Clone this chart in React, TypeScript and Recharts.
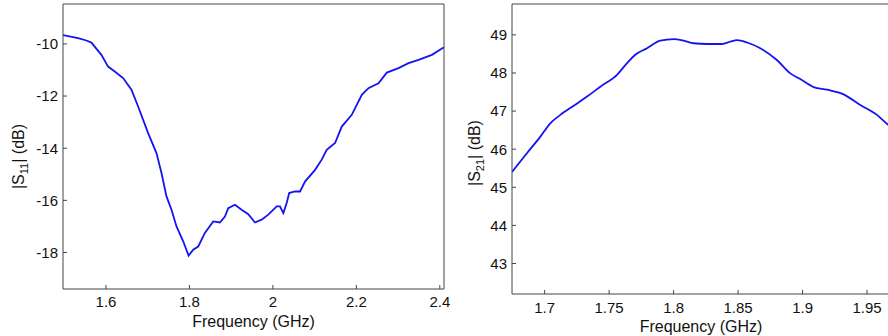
import { LineChart, Line, XAxis, YAxis } from "recharts";

// |S11| measured (left panel)
const s11Freq = [
  1.497, 1.533, 1.553, 1.565, 1.589, 1.605, 1.621, 1.641, 1.661, 1.677, 1.701,
  1.721, 1.733, 1.745, 1.757, 1.769, 1.785, 1.798, 1.809, 1.821, 1.837, 1.857,
  1.873, 1.885, 1.893, 1.909, 1.925, 1.941, 1.957, 1.973, 1.989, 2.009, 2.017,
  2.025, 2.033, 2.039, 2.053, 2.065, 2.077, 2.101, 2.117, 2.129, 2.149, 2.165,
  2.189, 2.213, 2.229, 2.253, 2.273, 2.301, 2.325, 2.349, 2.381, 2.41,
];
const s11Db = [
  -9.66, -9.78, -9.87, -9.95, -10.42, -10.87, -11.06, -11.31, -11.76, -12.4,
  -13.42, -14.19, -14.95, -15.85, -16.36, -17.0, -17.57, -18.12, -17.89, -17.77,
  -17.25, -16.81, -16.85, -16.62, -16.3, -16.17, -16.36, -16.53, -16.85, -16.74,
  -16.55, -16.23, -16.23, -16.49, -16.1, -15.72, -15.66, -15.66, -15.28, -14.83,
  -14.44, -14.06, -13.8, -13.17, -12.72, -11.95, -11.7, -11.51, -11.1, -10.93,
  -10.74, -10.61, -10.42, -10.13,
];
const s11FreqTicks = [1.6, 1.8, 2, 2.2, 2.4];
const s11DbTicks = [-18, -16, -14, -12, -10];

// |S21| measured (right panel)
const s21Freq = [
  1.6747, 1.6864, 1.6967, 1.7044, 1.7122, 1.7225, 1.7329, 1.7432, 1.7561,
  1.7639, 1.7703, 1.7794, 1.7897, 1.8, 1.8078, 1.8155, 1.8259, 1.8375, 1.844,
  1.8491, 1.8569, 1.8672, 1.8801, 1.8905, 1.8982, 1.9085, 1.9189, 1.9318,
  1.9447, 1.9577, 1.9664, 1.968,
];
const s21Db = [
  45.4, 45.9, 46.33, 46.68, 46.9, 47.14, 47.38, 47.64, 47.95, 48.26, 48.48,
  48.65, 48.85, 48.89, 48.85, 48.78, 48.76, 48.76, 48.82, 48.86, 48.8, 48.65,
  48.34, 47.99, 47.84, 47.63, 47.56, 47.44, 47.16, 46.9, 46.64, 46.6,
];
const s21FreqTicks = [1.7, 1.75, 1.8, 1.85, 1.9, 1.95];
const s21DbTicks = [43, 44, 45, 46, 47, 48, 49];

const FONT = '"Liberation Sans", Arial, sans-serif';
const AXIS = "#444";
const tickStyle = { fontSize: 15, fill: "#111", fontFamily: FONT };

const XTitle = ({ viewBox }: any) => (
  <text
    x={viewBox.x + viewBox.width / 2}
    y={viewBox.y + 38}
    textAnchor="middle"
    fontSize={16}
    fill="#111"
    fontFamily={FONT}
  >
    Frequency (GHz)
  </text>
);

const YTitle = ({ viewBox, sub, bx, dy }: any) => {
  const cx = viewBox.x + bx;
  const cy = viewBox.y + viewBox.height / 2 + dy;
  return (
    <text
      x={cx}
      y={cy}
      transform={`rotate(-90, ${cx}, ${cy})`}
      textAnchor="middle"
      fontSize={16}
      fill="#111"
      fontFamily={FONT}
    >
      |S
      <tspan dy={4} fontSize={11}>
        {sub}
      </tspan>
      <tspan dy={-4}>| (dB)</tspan>
    </text>
  );
};

type PanelProps = {
  freq: number[];
  db: number[];
  xDomain: [number, number];
  yDomain: [number, number];
  xTicks: number[];
  yTicks: number[];
  width: number;
  left: number;
  yWidth: number;
  xHeight: number;
  rightMargin: number;
  sub: string;
  titleX: number;
  titleDy: number;
  xTickMargin: number;
  smooth?: boolean;
};

function Panel(p: PanelProps) {
  const data = p.freq.map((f, i) => ({ f, v: p.db[i] }));
  return (
    <div style={{ position: "absolute", left: p.left, top: 0 }}>
      <LineChart
        width={p.width}
        height={336}
        data={data}
        margin={{ top: 3, right: p.rightMargin, bottom: 0, left: 0 }}
      >
        <XAxis
          dataKey="f"
          type="number"
          domain={p.xDomain}
          ticks={p.xTicks}
          interval={0}
          allowDataOverflow
          height={p.xHeight}
          tickSize={-4}
          tickMargin={p.xTickMargin}
          tick={tickStyle}
          stroke={AXIS}
          axisLine={{ stroke: AXIS }}
          tickLine={{ stroke: AXIS }}
          label={<XTitle />}
        />
        <XAxis
          xAxisId="top"
          orientation="top"
          dataKey="f"
          type="number"
          domain={p.xDomain}
          ticks={p.xTicks}
          interval={0}
          allowDataOverflow
          height={1}
          tickSize={-4}
          tick={false}
          axisLine={{ stroke: AXIS }}
          tickLine={{ stroke: AXIS }}
        />
        <YAxis
          type="number"
          domain={p.yDomain}
          ticks={p.yTicks}
          interval={0}
          allowDataOverflow
          width={p.yWidth}
          tickSize={-4}
          tickMargin={9}
          tick={tickStyle}
          axisLine={{ stroke: AXIS }}
          tickLine={{ stroke: AXIS }}
          label={<YTitle sub={p.sub} bx={p.titleX} dy={p.titleDy} />}
        />
        <YAxis
          yAxisId="right"
          orientation="right"
          type="number"
          domain={p.yDomain}
          ticks={p.yTicks}
          interval={0}
          allowDataOverflow
          width={1}
          tickSize={-4}
          tick={false}
          axisLine={{ stroke: AXIS }}
          tickLine={{ stroke: AXIS }}
        />
        <Line
          dataKey="v"
          type={p.smooth ? "monotone" : "linear"}
          stroke="#1414f0"
          strokeWidth={1.8}
          dot={false}
          isAnimationActive={false}
        />
      </LineChart>
    </div>
  );
}

export default function App() {
  return (
    <div
      style={{
        position: "fixed",
        left: 0,
        top: 0,
        width: 888,
        height: 336,
        overflow: "hidden",
        background: "#fff",
      }}
    >
      <Panel
        freq={s11Freq}
        db={s11Db}
        xDomain={[1.497, 2.41]}
        yDomain={[-19.4, -8.47]}
        xTicks={s11FreqTicks}
        yTicks={s11DbTicks}
        width={450}
        left={0}
        yWidth={63}
        xHeight={47}
        rightMargin={5}
        sub="11"
        titleX={24}
        titleDy={10}
        xTickMargin={11}
      />
      <Panel
        freq={s21Freq}
        db={s21Db}
        xDomain={[1.6747, 1.9678]}
        yDomain={[42.2, 49.81]}
        xTicks={s21FreqTicks}
        yTicks={s21DbTicks}
        width={452}
        left={440}
        yWidth={72}
        xHeight={42}
        rightMargin={1}
        sub="21"
        titleX={40}
        titleDy={4}
        xTickMargin={12}
        smooth
      />
    </div>
  );
}
